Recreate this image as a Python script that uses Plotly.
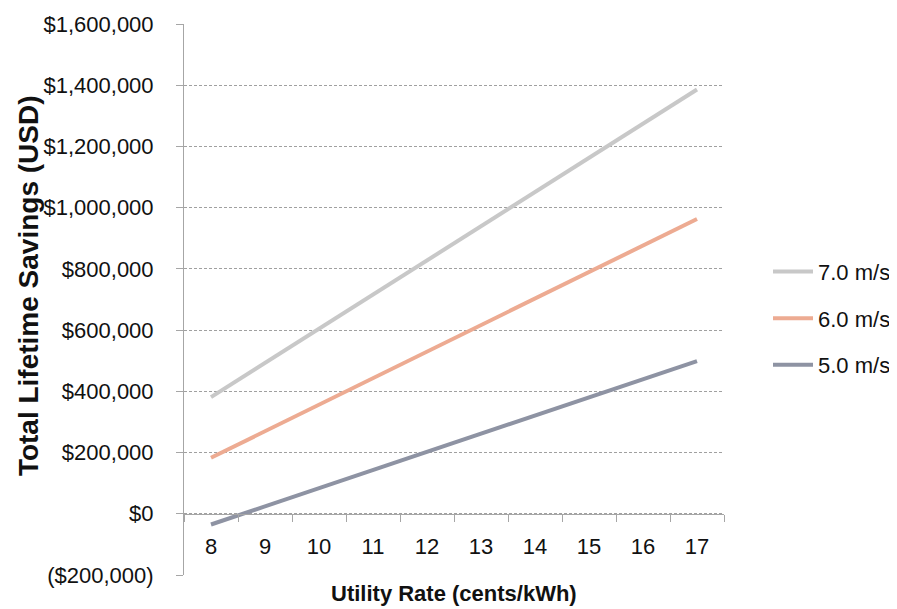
import plotly.graph_objects as go

rates = ["8", "9", "10", "11", "12", "13", "14", "15", "16", "17"]
savings_7 = [381000, 493000, 604000, 716000, 828000, 940000, 1051000, 1163000, 1275000, 1386000]
savings_6 = [183000, 270000, 356000, 443000, 530000, 617000, 703000, 790000, 877000, 963000]
savings_5 = [-35000, 24000, 84000, 143000, 202000, 262000, 321000, 380000, 439000, 499000]
series_names = ["7.0 m/s", "6.0 m/s", "5.0 m/s"]
y_tickvals = [-200000, 0, 200000, 400000, 600000, 800000, 1000000, 1200000, 1400000, 1600000]
y_ticktext = ["($200,000)", "$0", "$200,000", "$400,000", "$600,000", "$800,000",
              "$1,000,000", "$1,200,000", "$1,400,000", "$1,600,000"]

FONT = "Liberation Sans, Arial, sans-serif"
TXT = "#111111"
AXIS_COLOR = "#A6A6A6"
colors = ["#C8C8C8", "#EDAB92", "#8E93A3"]

fig = go.Figure()
for name, vals, col in zip(series_names, [savings_7, savings_6, savings_5], colors):
    fig.add_trace(go.Scatter(x=rates, y=vals, mode="lines", name=name,
                             legendgroup=name,
                             line=dict(color=col, width=4)))

y_min, y_max = -200000, 1600000
zero_pos = (0 - y_min) / (y_max - y_min)

fig.update_layout(
    width=889, height=601,
    margin=dict(l=176, r=173, t=16, b=34, autoexpand=False),
    paper_bgcolor="white", plot_bgcolor="white",
    font=dict(family=FONT, size=22, color=TXT),
    showlegend=True,
    legend=dict(x=1.0815, xanchor="left", y=0.466, yanchor="middle",
                font=dict(family=FONT, size=22, color=TXT),
                itemwidth=40,
                traceorder="grouped", tracegroupgap=15,
                bgcolor="rgba(0,0,0,0)"),
    xaxis=dict(type="category", categoryorder="array", categoryarray=rates,
               range=[-0.5, len(rates) - 0.5],
               anchor="free", position=zero_pos, automargin=False,
               showline=True, linecolor=AXIS_COLOR, linewidth=1,
               ticks="outside", tickson="boundaries", ticklen=7, tickcolor=AXIS_COLOR,
               showgrid=False, zeroline=False,
               ticklabelstandoff=13,
               tickfont=dict(family=FONT, size=22, color=TXT)),
    yaxis=dict(range=[y_min, y_max], tickvals=y_tickvals, ticktext=y_ticktext,
               automargin=False,
               showline=True, linecolor=AXIS_COLOR, linewidth=1,
               ticks="outside", ticklen=7, tickcolor=AXIS_COLOR,
               showgrid=True, gridcolor="#A0A0A0", gridwidth=1, griddash="3px,2px",
               zeroline=False, ticklabelstandoff=18,
               tickfont=dict(family=FONT, size=22, color=TXT)),
    annotations=[
        dict(text="<b>Utility Rate (cents/kWh)</b>", xref="paper", yref="paper",
             x=0.5, y=-0.033, xanchor="center", yanchor="middle", showarrow=False,
             font=dict(family=FONT, size=22, color=TXT)),
        dict(text="<b>Total Lifetime Savings (USD)</b>", xref="paper", yref="paper",
             x=-0.289, y=0.526, xanchor="center", yanchor="middle", showarrow=False,
             textangle=-90,
             font=dict(family=FONT, size=28, color=TXT)),
    ],
)

fig.write_html("out.html")
